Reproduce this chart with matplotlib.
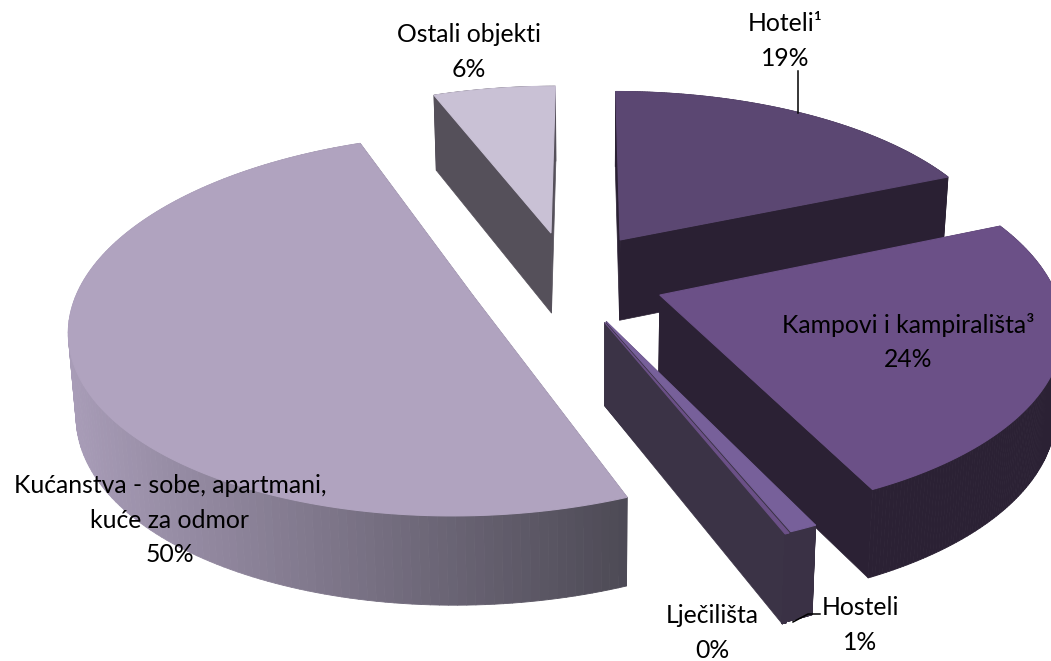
#!/usr/bin/env python3
# exploded 3d pie, projected by hand because matplotlib has no real 3d pie
import numpy as np
import matplotlib
matplotlib.use('Agg')
import matplotlib.pyplot as plt
from matplotlib.collections import PolyCollection
from matplotlib.colors import to_rgb

plt.rcParams['font.family'] = ['Lato', 'DejaVu Sans']

# clockwise from 12 o'clock
names = ['Hoteli¹', 'Kampovi i kampirališta³', 'Hosteli', 'Lječilišta',
         'Kućanstva - sobe, apartmani,\nkuće za odmor', 'Ostali objekti']
values = [18.6, 24.2, 0.95, 0.15, 50.15, 5.95]

top_colors = ['#5b4772', '#6b5087', '#77609a', '#6b5087', '#b0a3bf', '#c9c1d5']
side_colors = ['#2a2033', '#2b2134', '#3a3245', '#3b3346', '#4f4b56', '#55505a']
arc_left = ['#2a2033', '#2b2134', '#3a3145', '#3a3145', '#a89cb7', '#55505a']
arc_right = ['#2a2033', '#2b2134', '#3a3145', '#3a3145', '#4d4a55', '#55505a']

# explode offset of each slice on the pie plane (radius = 1)
offset_u = [0.090, 0.186, 0.050, 0.046, -0.285, -0.093]
offset_v = [0.282, -0.027, -0.166, -0.171, -0.030, 0.323]

labels_x = [785, 908, 860, 712, 170, 469]
labels_y = [41, 342, 625, 633, 520, 52]

# camera
CX, CY = 586, 290
A, B, K = 395, 185, 0.152
DEPTH = 82
SQUEEZE = 0.985


def project(u, v, bottom=False):
    w = 1 + K * v
    x = A * u / w
    y = -B * v / w
    if bottom:
        return CX + x * SQUEEZE, CY + y + DEPTH / np.sqrt(w)
    return CX + x, CY + y


def quad(u0, v0, u1, v1):
    a = project(u0, v0)
    b = project(u1, v1)
    c = project(u1, v1, True)
    d = project(u0, v0, True)
    return [a, b, c, d]


fig = plt.figure(figsize=(10.51, 6.61), dpi=100)
ax = fig.add_axes([0, 0, 1, 1])
ax.set_xlim(0, 1051)
ax.set_ylim(661, 0)
ax.axis('off')

shares = np.array(values) / sum(values)
ends = np.cumsum(shares) * 2 * np.pi
starts = ends - shares * 2 * np.pi

# back to front
for i in [5, 0, 1, 2, 3, 4]:
    t = np.linspace(starts[i], ends[i], 160)
    u = offset_u[i] + np.sin(t)
    v = offset_v[i] + np.cos(t)
    ou, ov = offset_u[i], offset_v[i]

    # radial walls
    for ue, ve in [(u[0], v[0]), (u[-1], v[-1])]:
        ax.fill(*zip(*quad(ou, ov, ue, ve)), color=side_colors[i], lw=0.5)

    # outer wall, shaded left to right
    facets = [quad(u[j], v[j], u[j + 1], v[j + 1]) for j in range(len(t) - 1)]
    xs = np.array([f[0][0] for f in facets])
    frac = np.clip((xs - 70) / 560, 0, 1)[:, None]
    cols = (1 - frac) * np.array(to_rgb(arc_left[i])) + frac * np.array(to_rgb(arc_right[i]))
    ax.add_collection(PolyCollection(facets, facecolors=cols, edgecolors=cols, linewidths=0.6))

    top = [project(ou, ov)] + [project(a, b) for a, b in zip(u, v)]
    ax.fill(*zip(*top), color=top_colors[i], lw=0.8)

# leader lines
ax.plot([798, 798], [71, 113], color='black', lw=1.1)
ax.plot([793, 808, 820], [622, 614, 614], color='black', lw=1.1)

for name, val, x, y in zip(names, values, labels_x, labels_y):
    ax.text(x, y, f'{name}\n{val:.0f}%', ha='center', va='center', fontsize=17.8,
            color='black', linespacing=1.6)

fig.savefig('out.png', dpi=100)
